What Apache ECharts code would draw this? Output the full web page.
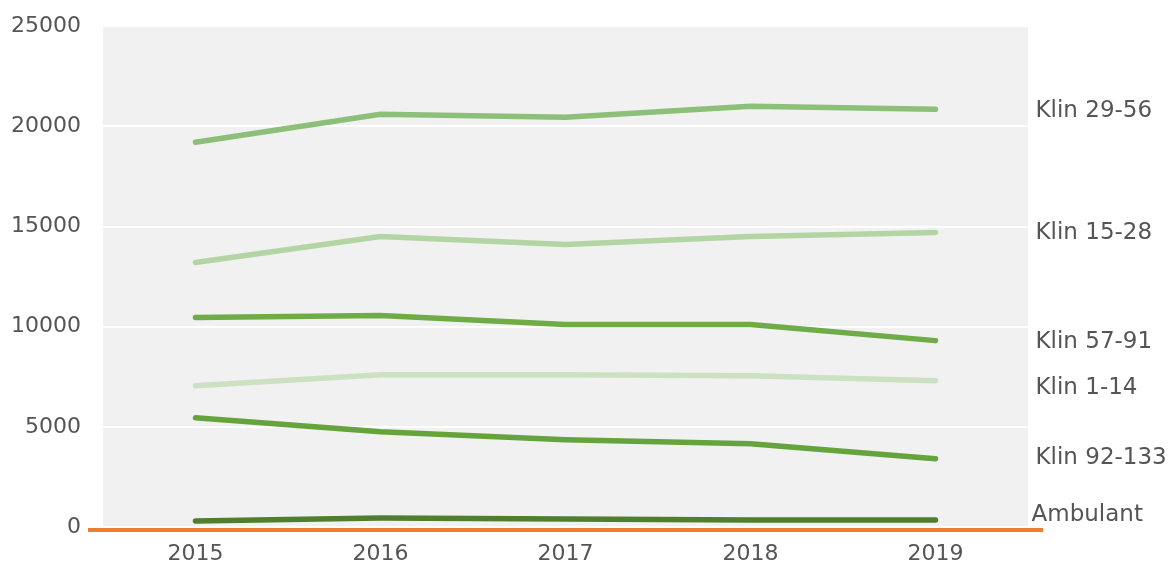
<!DOCTYPE html>
<html><head><meta charset="utf-8">
<script src="https://cdn.jsdelivr.net/npm/echarts@6/dist/echarts.min.js"></script>
<style>html,body{margin:0;padding:0;background:#fff}#c{width:1173px;height:576px}</style>
</head><body><div id="c"></div>
<script>
const years = ['2015','2016','2017','2018','2019'];
const klin2956 = [19200, 20600, 20450, 21000, 20850];
const klin1528 = [13200, 14500, 14100, 14500, 14700];
const klin5791 = [10450, 10550, 10100, 10100, 9300];
const klin114 = [7050, 7600, 7600, 7550, 7300];
const klin92133 = [5450, 4750, 4350, 4150, 3400];
const ambulant = [300, 450, 400, 350, 350];
const yTicks = [0, 5000, 10000, 15000, 20000, 25000];

const font = 'DejaVu Sans';
function s(name, data, color, dy, dx) {
  return {
    name, type: 'line', data, symbol: 'none', smooth: false,
    lineStyle: { color, width: 5.5, cap: 'round', join: 'round' },
    itemStyle: { color },
    endLabel: { show: true, formatter: name, distance: 100 + (dx || 0), offset: [0, dy],
      color: '#555', fontFamily: font, fontSize: 23 },
    animation: false
  };
}
const chart = echarts.init(document.getElementById('c'));
chart.setOption({
  animation: false,
  grid: { left: 103, right: 145, top: 26, bottom: 49, show: true, backgroundColor: '#f1f1f1', borderWidth: 0 },
  xAxis: { type: 'category', data: years, boundaryGap: true,
    axisLine: { show: false },
    axisTick: { show: false },
    axisLabel: { color: '#555', fontFamily: font, fontSize: 22, margin: 16 } },
  yAxis: { type: 'value', min: yTicks[0], max: yTicks[yTicks.length - 1], interval: 5000,
    axisLine: { show: false }, axisTick: { show: false },
    splitLine: { lineStyle: { color: '#ffffff', width: 2 } },
    axisLabel: { color: '#555', fontFamily: font, fontSize: 22, margin: 22, formatter: v => String(v) } },
  series: [
    s('Klin 29-56', klin2956, '#8cbf78', 2, 0),
    s('Klin 15-28', klin1528, '#b3d5a4', 1, 0),
    s('Klin 57-91', klin5791, '#6fab47', 1, 0),
    s('Klin 1-14', klin114, '#cce1c2', 7, 0),
    s('Klin 92-133', klin92133, '#65a33d', -1, 0),
    s('Ambulant', ambulant, '#4f7f2e', -5, -4)
  ]
});
const y0 = chart.convertToPixel({ yAxisIndex: 0 }, 0);
chart.setOption({ graphic: [{ type: 'line', shape: { x1: 88, y1: y0 + 3, x2: 1043, y2: y0 + 3 },
  style: { stroke: '#ed7d31', lineWidth: 4 }, z: 10 }] });
</script></body></html>
